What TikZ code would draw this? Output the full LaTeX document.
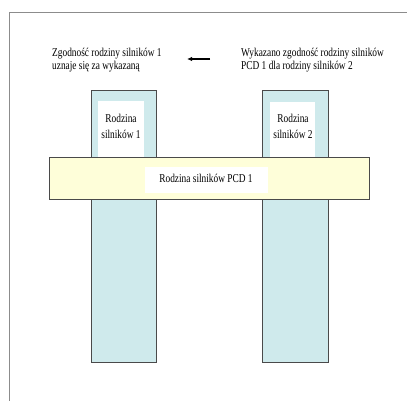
\documentclass[tikz,border=0pt]{standalone}
\usepackage{fontspec}
\setmainfont{Liberation Serif}[FakeStretch=0.78]
\usetikzlibrary{arrows.meta}
\definecolor{colfill}{HTML}{CFEAEC}
\definecolor{barfill}{HTML}{FEFED9}
\definecolor{edge}{HTML}{4A4A4A}
\definecolor{frameline}{HTML}{8C8C8C}
\tikzset{
  column/.style={draw=edge, line width=0.9pt, fill=colfill},
  whitebox/.style={fill=white, draw=none},
  bar/.style={draw=edge, line width=0.9pt, fill=barfill},
  label/.style={font=\fontsize{12}{13.5}\selectfont, align=left, inner sep=0pt},
  boxlabel/.style={font=\fontsize{12}{16}\selectfont, align=center, inner sep=0pt},
}
\begin{document}
\begin{tikzpicture}[x=1pt, y=-1pt]
  \useasboundingbox (0,0) rectangle (407,401);
  % outer frame: top and left edges only
  \draw[frameline, line width=0.8pt] (9,401) -- (9,12) -- (407,12);

  % the two engine-family columns
  \path[column] (91,90) rectangle (156,362);
  \path[column] (262,90) rectangle (328,362);
  \path[whitebox] (98,101) rectangle (144,157);
  \path[whitebox] (270,102) rectangle (315,157);
  \node[boxlabel] (fam1) at (121,126) {Rodzina\\silników 1};
  \node[boxlabel] (fam2) at (293,126) {Rodzina\\silników 2};

  % the PCD family bar across both columns
  \path[bar] (49,157) rectangle (369,199);
  \path[whitebox] (145,167) rectangle (268,193);
  \node[boxlabel] (pcd) at (206,178.5) {Rodzina silników PCD 1};

  % statements above (base anchor sits on the last line)
  \node[label, anchor=base west] (left) at (52,70)
    {Zgodność rodziny silników 1\\uznaje się za wykazaną};
  \node[label, anchor=base west] (right) at (241,70)
    {Wykazano zgodność rodziny silników\\PCD 1 dla rodziny silników 2};
  \coordinate (arrowfrom) at (210,59);
  \coordinate (arrowto) at (187,59);
  \draw[line width=1.1pt, -{Latex[length=5pt,width=4.5pt]}] (arrowfrom) -- (arrowto);
\end{tikzpicture}
\end{document}
